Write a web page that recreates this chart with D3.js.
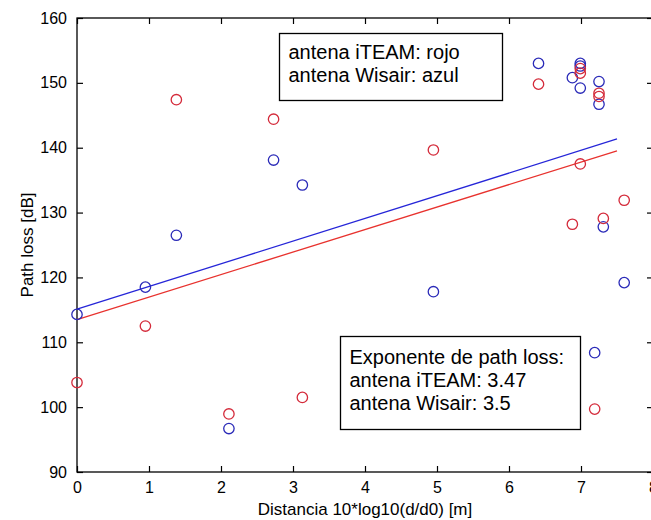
<!DOCTYPE html>
<html>
<head>
<meta charset="utf-8">
<script src="https://cdn.jsdelivr.net/npm/d3@7"></script>
<style>
  html, body { margin: 0; padding: 0; background: #fff; }
  svg { display: block; font-family: "Liberation Sans", Arial, sans-serif; }
</style>
</head>
<body>
<svg id="chart" width="651" height="520"></svg>
<script>
// Measured distance (10*log10(d/d0)) and path loss per antenna
const distance   = [0, 0.95, 1.38, 2.11, 2.73, 3.13, 4.95, 6.41, 6.88, 6.99, 6.99, 6.99, 7.19, 7.25, 7.25, 7.31, 7.6];
const iteamLoss  = [103.8, 112.5, 147.4, 98.95, 144.4, 101.5, 139.65, 149.8, 128.2, 137.5, 152.2, 151.5, 99.7, 148.4, 147.9, 129.1, 131.9];
const wisairLoss = [114.3, 118.5, 126.5, 96.7, 138.1, 134.25, 117.8, 153.0, 150.8, 153.0, 152.6, 149.2, 108.4, 150.2, 146.7, 127.8, 119.2];

// Fitted path-loss models: loss = intercept + exponent * distance
const fitNames      = ["iTEAM", "Wisair"];
const fitExponents  = [3.47, 3.5];
const fitIntercepts = [113.5, 115.1];
const fitRange      = [0, 7.5];

// Axis ticks
const xTicks = [0, 1, 2, 3, 4, 5, 6, 7, 8];
const yTicks = [90, 100, 110, 120, 130, 140, 150, 160];

const RED = "#d42a3a", BLUE = "#2a2ab8";
const LINE_RED = "#e8322e", LINE_BLUE = "#2626d8";

const svg = d3.select("#chart");
const plotLeft = 77, plotTop = 18, plotRight = 653, plotBottom = 472;

const x = d3.scaleLinear().domain([0, 8]).range([plotLeft, plotRight]);
const y = d3.scaleLinear().domain([90, 160]).range([plotBottom, plotTop]);

// Frame
svg.append("rect")
  .attr("x", plotLeft).attr("y", plotTop)
  .attr("width", plotRight - plotLeft).attr("height", plotBottom - plotTop)
  .attr("fill", "#fff").attr("stroke", "#000").attr("stroke-width", 1.3);

// Axes with inward ticks
const tickLen = 6;
const bottomAxis = svg.append("g").attr("transform", `translate(0,${plotBottom})`)
  .call(d3.axisBottom(x).tickValues(xTicks).tickSizeInner(-tickLen).tickSizeOuter(0).tickPadding(10).tickFormat(d3.format("d")));
const topAxis = svg.append("g").attr("transform", `translate(0,${plotTop})`)
  .call(d3.axisTop(x).tickValues(xTicks).tickSizeInner(-tickLen).tickSizeOuter(0).tickFormat(""));
const leftAxis = svg.append("g").attr("transform", `translate(${plotLeft},0)`)
  .call(d3.axisLeft(y).tickValues(yTicks).tickSizeInner(-tickLen).tickSizeOuter(0).tickPadding(10).tickFormat(d3.format("d")));
const rightAxis = svg.append("g").attr("transform", `translate(${plotRight},0)`)
  .call(d3.axisRight(y).tickValues(yTicks).tickSizeInner(-tickLen).tickSizeOuter(0).tickFormat(""));

[bottomAxis, topAxis, leftAxis, rightAxis].forEach(g => {
  g.select(".domain").remove();
  g.selectAll(".tick line").attr("stroke", "#000").attr("stroke-width", 1.2);
  g.selectAll("text").attr("font-size", 16).attr("fill", "#000")
    .attr("font-family", "'Liberation Sans', Arial, sans-serif");
});

// Axis titles
svg.append("text")
  .attr("x", (plotLeft + plotRight) / 2).attr("y", 515)
  .attr("text-anchor", "middle").attr("font-size", 17).attr("fill", "#000")
  .text("Distancia 10*log10(d/d0) [m]");
svg.append("text")
  .attr("transform", `translate(33,${(plotTop + plotBottom) / 2}) rotate(-90)`)
  .attr("text-anchor", "middle").attr("font-size", 17).attr("fill", "#000")
  .text("Path loss [dB]");

// Fit lines
const fitColors = [LINE_RED, LINE_BLUE];
const line = d3.line().x(d => x(d[0])).y(d => y(d[1]));
fitNames.forEach((name, i) => {
  const pts = fitRange.map(d => [d, fitIntercepts[i] + fitExponents[i] * d]);
  svg.append("path")
    .attr("d", line(pts))
    .attr("fill", "none").attr("stroke", fitColors[i]).attr("stroke-width", 1.3);
});

// Measurement markers
function drawMarkers(values, color) {
  svg.append("g").selectAll("circle")
    .data(values)
    .join("circle")
    .attr("cx", (d, i) => x(distance[i]))
    .attr("cy", d => y(d))
    .attr("r", 5.2)
    .attr("fill", "none")
    .attr("stroke", color)
    .attr("stroke-width", 1.3);
}
drawMarkers(wisairLoss, BLUE);
drawMarkers(iteamLoss, RED);

// Annotation boxes
function textBox(x0, y0, w, h, lines, baseline0) {
  svg.append("rect")
    .attr("x", x0).attr("y", y0).attr("width", w).attr("height", h)
    .attr("fill", "#fff").attr("stroke", "#000").attr("stroke-width", 1.3);
  lines.forEach((t, i) => {
    svg.append("text")
      .attr("x", x0 + 9).attr("y", baseline0 + i * 23)
      .attr("font-size", 20).attr("fill", "#000")
      .text(t);
  });
}
textBox(279.5, 33.5, 223, 67, ["antena iTEAM: rojo", "antena Wisair: azul"], 59);
textBox(340.5, 336.5, 240, 93,
  ["Exponente de path loss:",
   `antena ${fitNames[0]}: ${fitExponents[0]}`,
   `antena ${fitNames[1]}: ${fitExponents[1]}`], 364);
</script>
</body>
</html>
